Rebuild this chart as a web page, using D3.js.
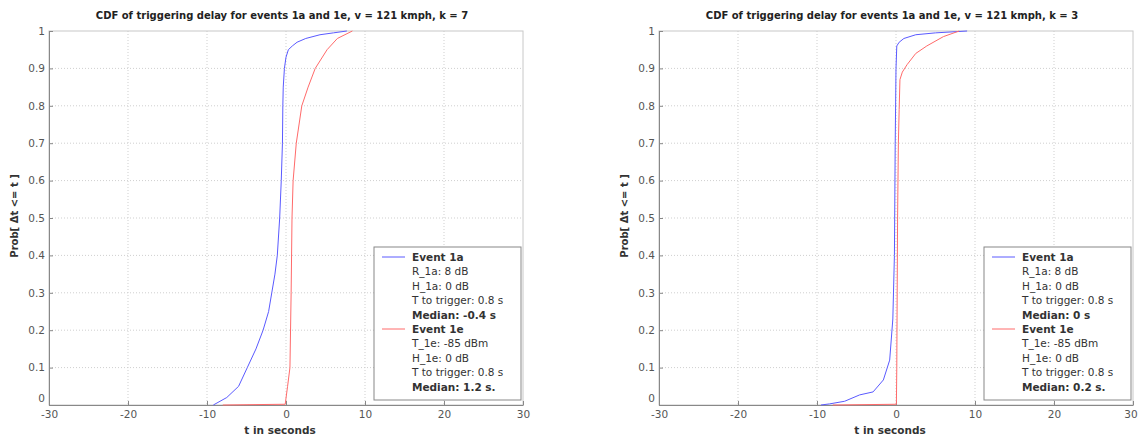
<!DOCTYPE html>
<html>
<head>
<meta charset="utf-8">
<script src="https://cdn.jsdelivr.net/npm/d3@7"></script>
<style>
  body { margin: 0; background: #fff; }
  text { font-family: "DejaVu Sans", Verdana, sans-serif; }
</style>
</head>
<body>
<svg id="svgID"></svg>
<script>
// tick values shared by both panels
const xTicks = [-30, -20, -10, 0, 10, 20, 30];
const yTicks = [0, 0.1, 0.2, 0.3, 0.4, 0.5, 0.6, 0.7, 0.8, 0.9, 1];
const yTickLabels = ["0", "0.1", "0.2", "0.3", "0.4", "0.5", "0.6", "0.7", "0.8", "0.9", "1"];

// k = 7 panel, event 1a (blue)
const k7_1a_t = [-9.2, -7.5, -6, -4.9, -3.8, -2.9, -2.2, -1.8, -1.4, -1.1, -0.8, -0.6, -0.45, -0.4, -0.35, -0.2, 0, 0.3, 0.8, 1.4, 2.5, 4.3, 6, 7.7];
const k7_1a_p = [0, 0.02, 0.05, 0.1, 0.15, 0.2, 0.25, 0.3, 0.35, 0.4, 0.5, 0.6, 0.7, 0.8, 0.85, 0.9, 0.93, 0.95, 0.96, 0.97, 0.98, 0.99, 0.995, 1];
// k = 7 panel, event 1e (red)
const k7_1e_t = [-8, -0.1, 0.2, 0.5, 0.65, 0.76, 0.9, 1.3, 2.0, 2.8, 3.7, 5.2, 6.5, 8.4];
const k7_1e_p = [0, 0.002, 0.05, 0.1, 0.3, 0.5, 0.6, 0.7, 0.8, 0.85, 0.9, 0.95, 0.98, 1];

// k = 3 panel, event 1a (blue)
const k3_1a_t = [-9.5, -8.4, -6.5, -4.6, -2.9, -1.6, -0.8, -0.4, -0.2, -0.1, 0, 0.1, 0.4, 1.0, 2.5, 5, 9];
const k3_1a_p = [0, 0.003, 0.01, 0.027, 0.035, 0.067, 0.12, 0.23, 0.4, 0.7, 0.9, 0.96, 0.97, 0.98, 0.99, 0.995, 1];
// k = 3 panel, event 1e (red)
const k3_1e_t = [-8, 0.05, 0.1, 0.15, 0.2, 0.3, 0.4, 0.5, 0.8, 1.4, 2.5, 3.9, 6, 8];
const k3_1e_p = [0, 0.002, 0.1, 0.3, 0.5, 0.7, 0.79, 0.87, 0.89, 0.91, 0.94, 0.96, 0.985, 1];

const legendK7 = ["Event 1a", "R_1a: 8 dB", "H_1a: 0 dB", "T to trigger: 0.8 s", "Median: -0.4 s",
                  "Event 1e", "T_1e: -85 dBm", "H_1e: 0 dB", "T to trigger: 0.8 s", "Median: 1.2 s."];
const legendK3 = ["Event 1a", "R_1a: 8 dB", "H_1a: 0 dB", "T to trigger: 0.8 s", "Median: 0 s",
                  "Event 1e", "T_1e: -85 dBm", "H_1e: 0 dB", "T to trigger: 0.8 s", "Median: 0.2 s."];

const width = 1138, height = 437;
const svg = d3.select("#svgID")
    .attr("width", width)
    .attr("height", height);

svg.append("rect").attr("width", width).attr("height", height).attr("fill", "#fff");

function zip(ts, ps) {
    return ts.map((t, i) => ({t: t, p: ps[i]}));
}

function drawPanel(left, title, s1a, s1e, legendLines) {
    const plotW = 474, plotH = 374, top = 31;
    const x = d3.scaleLinear().domain([-30, 30]).range([left, left + plotW]);
    const y = d3.scaleLinear().domain([0, 1]).range([top + plotH, top]);
    const g = svg.append("g");

    // dotted grid
    g.append("g").selectAll("line")
        .data(xTicks.slice(1, -1))
        .enter().append("line")
        .attr("x1", d => x(d)).attr("x2", d => x(d))
        .attr("y1", top).attr("y2", top + plotH)
        .attr("stroke", "#cfcfcf").attr("stroke-dasharray", "1,2");
    g.append("g").selectAll("line")
        .data(yTicks.slice(1, -1))
        .enter().append("line")
        .attr("x1", left).attr("x2", left + plotW)
        .attr("y1", d => y(d)).attr("y2", d => y(d))
        .attr("stroke", "#cfcfcf").attr("stroke-dasharray", "1,2");

    // box
    g.append("rect")
        .attr("x", left).attr("y", top)
        .attr("width", plotW).attr("height", plotH)
        .attr("fill", "none").attr("stroke", "#c8c8c8");

    const xAxis = g.append("g")
        .attr("transform", `translate(0,${top + plotH})`)
        .call(d3.axisBottom(x).tickValues(xTicks).tickFormat(d => String(d))
            .tickSizeInner(-4).tickSizeOuter(0).tickPadding(6));
    const yAxis = g.append("g")
        .attr("transform", `translate(${left},0)`)
        .call(d3.axisLeft(y).tickValues(yTicks).tickFormat((d, i) => yTickLabels[i])
            .tickSizeInner(-4).tickSizeOuter(0).tickPadding(4));
    [xAxis, yAxis].forEach(a => {
        a.select(".domain").attr("stroke", "#888");
        a.selectAll(".tick line").attr("stroke", "#888");
        a.selectAll(".tick text").attr("fill", "#555").attr("font-size", 10.5)
            .style("font-family", "'DejaVu Sans', Verdana, sans-serif");
    });
    // the "0" label sits just above the "-30" label, as in the original
    yAxis.selectAll(".tick text").filter(d => d === 0).attr("dy", "-0.3em");
    // keep the last x label inside the window
    if (left + plotW + 8 > width) {
        xAxis.selectAll(".tick text").filter(d => d === 30).attr("text-anchor", "end").attr("dx", "0.4em");
    }

    const line = d3.line().x(d => x(d.t)).y(d => y(d.p));
    g.append("path").datum(zip(s1a[0], s1a[1]))
        .attr("d", line).attr("fill", "none").attr("stroke", "#5a5aff").attr("stroke-width", 1);
    g.append("path").datum(zip(s1e[0], s1e[1]))
        .attr("d", line).attr("fill", "none").attr("stroke", "#ff6a6a").attr("stroke-width", 1);

    // title and axis labels
    g.append("text")
        .attr("x", left + plotW / 2 - 4).attr("y", 19)
        .attr("text-anchor", "middle").attr("font-size", 10).attr("font-weight", "bold")
        .attr("fill", "#222")
        .text(title);
    g.append("text")
        .attr("x", left + plotW / 2 - 6).attr("y", 434)
        .attr("text-anchor", "middle").attr("font-size", 10.5).attr("font-weight", "bold")
        .attr("fill", "#333")
        .text("t in seconds");
    g.append("text")
        .attr("transform", `translate(${left - 31},216) rotate(-90)`)
        .attr("text-anchor", "middle").attr("font-size", 10).attr("font-weight", "bold")
        .attr("fill", "#333")
        .text("Prob[ \u0394t <= t ]");

    // legend
    const lx = left + 325, ly = 247, lw = 147, lh = 153;
    const leg = g.append("g");
    leg.append("rect")
        .attr("x", lx).attr("y", ly).attr("width", lw).attr("height", lh)
        .attr("fill", "#fff").attr("stroke", "#888");
    leg.selectAll("text")
        .data(legendLines)
        .enter().append("text")
        .attr("x", lx + 38)
        .attr("y", (d, i) => ly + 14 + i * 14.4)
        .attr("font-size", 10.5)
        .attr("fill", "#333")
        .attr("font-weight", d => (d.startsWith("Event") || d.startsWith("Median")) ? "bold" : "normal")
        .text(d => d);
    leg.selectAll("line")
        .data([{i: 0, c: "#5a5aff"}, {i: 5, c: "#ff6a6a"}])
        .enter().append("line")
        .attr("x1", lx + 8).attr("x2", lx + 31)
        .attr("y1", d => ly + 10 + d.i * 14.4).attr("y2", d => ly + 10 + d.i * 14.4)
        .attr("stroke", d => d.c);
}

drawPanel(49, "CDF of triggering delay for events 1a and 1e, v = 121 kmph, k = 7",
    [k7_1a_t, k7_1a_p], [k7_1e_t, k7_1e_p], legendK7);
drawPanel(659, "CDF of triggering delay for events 1a and 1e, v = 121 kmph, k = 3",
    [k3_1a_t, k3_1a_p], [k3_1e_t, k3_1e_p], legendK3);
</script>
</body>
</html>
